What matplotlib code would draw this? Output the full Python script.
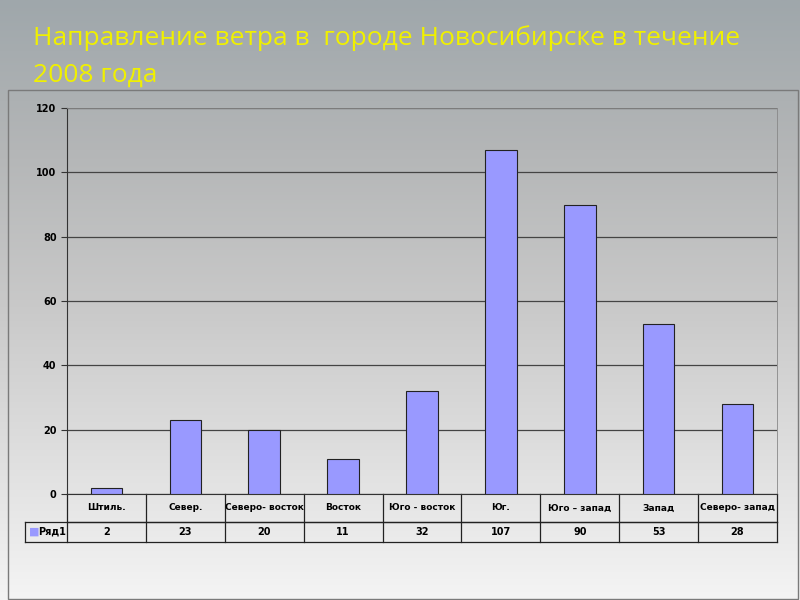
import numpy as np
import matplotlib.pyplot as plt
from matplotlib.colors import LinearSegmentedColormap
from matplotlib.patches import Rectangle

categories = ["Штиль.", "Север.", "Северо- восток", "Восток", "Юго - восток",
              "Юг.", "Юго – запад", "Запад", "Северо- запад"]
values = [2, 23, 20, 11, 32, 107, 90, 53, 28]
series_name = "Ряд1"
title_lines = ["Направление ветра в  городе Новосибирске в течение", "2008 года"]

fig = plt.figure(figsize=(8, 6), dpi=100)

# slide background: grey gradient, darker at the top
bg = fig.add_axes([0, 0, 1, 1], zorder=-10)
grad = np.linspace(0, 1, 256)[:, None]
cmap = LinearSegmentedColormap.from_list("bg", ["#9fa7ab", "#b4b6b7", "#c8c8c8", "#dedede", "#f4f4f4"])
bg.imshow(grad, aspect="auto", cmap=cmap, extent=[0, 1, 0, 1], origin="upper")
bg.set_xlim(0, 1)
bg.set_ylim(0, 1)
bg.add_patch(Rectangle((8 / 800, 1 / 600), 790 / 800, 509 / 600, fill=False,
                       edgecolor="#7a7a7a", linewidth=1.0))
bg.set_axis_off()

for line, yc in zip(title_lines, [38, 75]):
    fig.text(33 / 800, 1 - yc / 600, line, color="#f0f000", fontsize=19, family="Open Sans",
             va="center", ha="left")

ax = fig.add_axes([67 / 800, 106 / 600, 710 / 800, 386 / 600])
ax.patch.set_alpha(0)
x = np.arange(len(categories))
ax.bar(x, values, width=0.4, color="#9999ff", edgecolor="#222222", linewidth=0.8, zorder=3)
ax.set_xlim(-0.5, len(categories) - 0.5)
ax.set_ylim(0, 120)
ax.set_yticks(range(0, 121, 20))
ax.set_yticklabels([str(v) for v in range(0, 121, 20)], fontsize=7, fontweight="bold")
ax.tick_params(axis="y", length=4, width=0.8, color="#333333")
ax.set_xticks([])
ax.grid(axis="y", color="#444444", linewidth=0.9, zorder=0)
for s in ["top", "right"]:
    ax.spines[s].set_color("#888888")
    ax.spines[s].set_linewidth(0.6)
ax.spines["left"].set_color("#333333")
ax.spines["bottom"].set_color("#333333")

# data table under the axis
tr = ax.get_xaxis_transform()
h1 = -28 / 386
h2 = -48 / 386
xl = -0.5
xr = len(categories) - 0.5
xleg = -0.5 - 42 / 710 * len(categories)
kw = dict(transform=tr, clip_on=False, color="#222222", linewidth=0.9)
ax.plot([xl, xr], [h1, h1], **kw)
ax.plot([xleg, xr], [h1, h1], **kw)
ax.plot([xleg, xr], [h2, h2], **kw)
ax.plot([xleg, xleg], [h1, h2], **kw)
for i in range(len(categories) + 1):
    ax.plot([i - 0.5, i - 0.5], [0, h2], **kw)
for i, (c, v) in enumerate(zip(categories, values)):
    ax.text(i, h1 / 2, c, transform=tr, ha="center", va="center", fontsize=6.5, fontweight="bold")
    ax.text(i, (h1 + h2) / 2, str(v), transform=tr, ha="center", va="center", fontsize=7, fontweight="bold")
ax.text(xleg + 0.05, (h1 + h2) / 2, "\u25a0", transform=tr, ha="left", va="center",
        fontsize=8, color="#9999ff")
ax.text(xleg + 0.17, (h1 + h2) / 2, series_name, transform=tr, ha="left", va="center",
        fontsize=7, fontweight="bold")

fig.savefig("out.png", dpi=100)
